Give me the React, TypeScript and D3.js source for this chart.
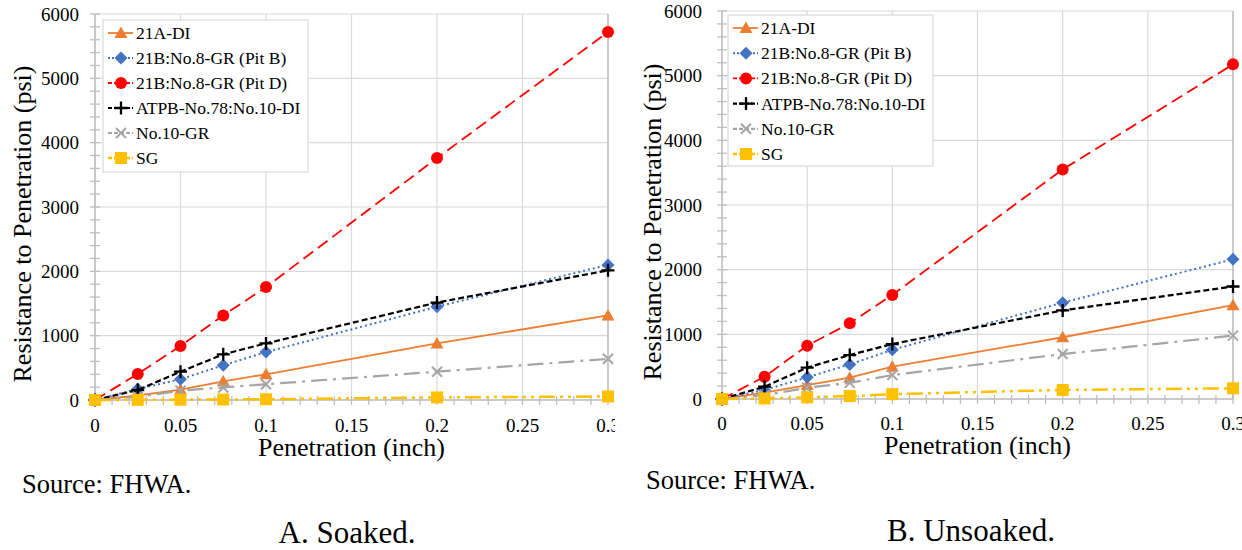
import React from "react";
import * as d3 from "d3";

const penetration = [0, 0.025, 0.05, 0.075, 0.1, 0.2, 0.3];
const seriesNames = [
  "21A-DI",
  "21B:No.8-GR (Pit B)",
  "21B:No.8-GR (Pit D)",
  "ATPB-No.78:No.10-DI",
  "No.10-GR",
  "SG",
];
const soaked21A = [0, 70, 160, 290, 400, 880, 1315];
const soakedPitB = [0, 170, 322, 540, 745, 1450, 2100];
const soakedPitD = [0, 405, 840, 1315, 1755, 3760, 5720];
const soakedATPB = [0, 155, 440, 710, 880, 1515, 2015];
const soakedNo10 = [0, 50, 145, 195, 245, 440, 640];
const soakedSG = [0, 3, 5, 8, 12, 40, 55];

const unsoaked21A = [0, 100, 215, 330, 500, 955, 1450];
const unsoakedPitB = [0, 140, 335, 535, 760, 1490, 2160];
const unsoakedPitD = [0, 345, 825, 1170, 1610, 3550, 5175];
const unsoakedATPB = [0, 190, 485, 680, 850, 1370, 1740];
const unsoakedNo10 = [0, 60, 175, 250, 370, 695, 980];
const unsoakedSG = [0, 8, 25, 45, 75, 140, 165];

const xTickValues = [0, 0.05, 0.1, 0.15, 0.2, 0.25, 0.3];
const xTickLabels = ["0", "0.05", "0.1", "0.15", "0.2", "0.25", "0.3"];
const yTickValues = [0, 1000, 2000, 3000, 4000, 5000, 6000];

const FONT = "'Liberation Serif', 'Times New Roman', serif";

const styles = [
  { color: "#ED7D31", dash: "", width: 1.8, marker: "triangle" },
  { color: "#4472C4", dash: "2,3", width: 2, marker: "diamond" },
  { color: "#FF0000", dash: "12,6", width: 1.8, marker: "circle" },
  { color: "#000000", dash: "6,3", width: 2.2, marker: "plus" },
  { color: "#A5A5A5", dash: "16,6,3,6", width: 2.2, marker: "x" },
  { color: "#FFC000", dash: "16,5,3,5,3,5", width: 2.5, marker: "square" },
];

function Marker({ type, x, y, color }: { type: string; x: number; y: number; color: string }) {
  if (type === "triangle")
    return <path d={`M${x},${y - 6.5}L${x + 6.5},${y + 5}L${x - 6.5},${y + 5}Z`} fill={color} />;
  if (type === "diamond")
    return <path d={`M${x},${y - 6.5}L${x + 6.5},${y}L${x},${y + 6.5}L${x - 6.5},${y}Z`} fill={color} />;
  if (type === "circle") return <circle cx={x} cy={y} r={6} fill={color} />;
  if (type === "square") return <rect x={x - 6} y={y - 6} width={12} height={12} fill={color} />;
  if (type === "plus")
    return (
      <path d={`M${x - 6.5},${y}H${x + 6.5}M${x},${y - 6.5}V${y + 6.5}`} stroke={color} strokeWidth={2.3} fill="none" />
    );
  return (
    <path d={`M${x - 5},${y - 5}L${x + 5},${y + 5}M${x - 5},${y + 5}L${x + 5},${y - 5}`} stroke={color} strokeWidth={2} fill="none" />
  );
}

type PanelProps = {
  id: string;
  clipRight: number;
  series: number[][];
  xr: [number, number];
  yr: [number, number];
  legend: { x: number; y: number; w: number; h: number; row0: number; step: number };
  yTitle: { x: number; y: number };
  xTickY: number;
  xTitleY: number;
  yLabelX: number;
};

function Panel({ id, clipRight, series, xr, yr, legend, yTitle, xTickY, xTitleY, yLabelX }: PanelProps) {
  const x = d3.scaleLinear().domain([0, 0.3]).range(xr);
  const y = d3.scaleLinear().domain([0, 6000]).range(yr);
  const line = d3
    .line<[number, number]>()
    .x((d) => x(d[0]))
    .y((d) => y(d[1]));
  const minorX = d3.range(0, 31).map((i) => i / 100);
  const minorY = d3.range(0, 31).map((i) => i * 200);
  const axisColor = "#bfbfbf";
  const gridColor = "#d9d9d9";
  return (
    <g clipPath={`url(#${id})`}>
      <defs>
        <clipPath id={id}>
          <rect x={0} y={0} width={clipRight} height={470} />
        </clipPath>
      </defs>
      {xTickValues.map((t) => (
        <line key={"gx" + t} x1={x(t)} x2={x(t)} y1={yr[1]} y2={yr[0]} stroke={gridColor} strokeWidth={1.2} />
      ))}
      {yTickValues.map((t) => (
        <line key={"gy" + t} x1={xr[0]} x2={xr[1]} y1={y(t)} y2={y(t)} stroke={gridColor} strokeWidth={1.2} />
      ))}
      <line x1={xr[1]} x2={xr[1]} y1={yr[1]} y2={yr[0]} stroke={axisColor} strokeWidth={1.5} />
      <line x1={xr[0]} x2={xr[1]} y1={yr[0]} y2={yr[0]} stroke={axisColor} strokeWidth={1.5} />
      <line x1={xr[0]} x2={xr[0]} y1={yr[1]} y2={yr[0]} stroke={axisColor} strokeWidth={1.5} />
      {minorX.map((t) => (
        <line key={"tx" + t} x1={x(t)} x2={x(t)} y1={yr[0] - 4} y2={yr[0] + 5} stroke={axisColor} strokeWidth={1.3} />
      ))}
      {minorY.map((t) => (
        <line key={"ty" + t} x1={xr[0] - 5} x2={xr[0] + 5} y1={y(t)} y2={y(t)} stroke={axisColor} strokeWidth={1.3} />
      ))}
      {xTickValues.map((t, i) => (
        <text key={"lx" + t} x={x(t)} y={xTickY} textAnchor="middle" dominantBaseline="central" fontSize={19} fontFamily={FONT}>
          {xTickLabels[i]}
        </text>
      ))}
      {yTickValues.map((t) => (
        <text key={"ly" + t} x={yLabelX} y={y(t)} textAnchor="end" dominantBaseline="central" fontSize={19} fontFamily={FONT}>
          {t}
        </text>
      ))}
      <text
        x={(xr[0] + xr[1]) / 2}
        y={xTitleY}
        textAnchor="middle"
        dominantBaseline="central"
        fontSize={26}
        fontFamily={FONT}
      >
        Penetration (inch)
      </text>
      <text
        transform={`translate(${yTitle.x},${yTitle.y}) rotate(-90)`}
        textAnchor="middle"
        dominantBaseline="central"
        fontSize={26}
        fontFamily={FONT}
      >
        Resistance to Penetration (psi)
      </text>
      {series.map((vals, si) => {
        const st = styles[si];
        const pts = penetration.map((p, i) => [p, vals[i]] as [number, number]);
        return (
          <g key={"s" + si}>
            <path d={line(pts) || ""} fill="none" stroke={st.color} strokeWidth={st.width} strokeDasharray={st.dash} />
            {pts.map((d, i) => (
              <Marker key={i} type={st.marker} x={x(d[0])} y={y(d[1])} color={st.color} />
            ))}
          </g>
        );
      })}
      <rect x={legend.x} y={legend.y} width={legend.w} height={legend.h} fill="#fff" stroke="#d9d9d9" strokeWidth={1.2} />
      {seriesNames.map((name, i) => {
        const st = styles[i];
        const cy = legend.row0 + i * legend.step;
        const lx = legend.x + 5;
        return (
          <g key={"lg" + i}>
            <line x1={lx} x2={lx + 25} y1={cy} y2={cy} stroke={st.color} strokeWidth={st.width} strokeDasharray={st.dash ? (st.dash === "2,3" ? "2,2" : "4,2") : ""} />
            <Marker type={st.marker} x={lx + 13} y={cy} color={st.color} />
            <text x={lx + 28} y={cy} dominantBaseline="central" fontSize={17.5} fontFamily={FONT}>
              {name}
            </text>
          </g>
        );
      })}
    </g>
  );
}

export default function App() {
  const soaked = [soaked21A, soakedPitB, soakedPitD, soakedATPB, soakedNo10, soakedSG];
  const unsoaked = [unsoaked21A, unsoakedPitB, unsoakedPitD, unsoakedATPB, unsoakedNo10, unsoakedSG];
  return (
    <svg width={1242} height={550} style={{ position: "absolute", left: 0, top: 0, background: "#fff" }}>
      <rect x={0} y={0} width={1242} height={550} fill="#fff" />
      <Panel
        id="clipA"
        clipRight={615}
        series={soaked}
        xr={[95, 608]}
        yr={[400, 14]}
        legend={{ x: 103, y: 20, w: 205, h: 152, row0: 33, step: 25 }}
        yTitle={{ x: 22, y: 224 }}
        xTickY={425}
        xTitleY={447}
        yLabelX={79}
      />
      <Panel
        id="clipB"
        clipRight={1242}
        series={unsoaked}
        xr={[722, 1233]}
        yr={[399, 11]}
        legend={{ x: 728, y: 15, w: 205, h: 151, row0: 28, step: 25.2 }}
        yTitle={{ x: 652, y: 222 }}
        xTickY={423}
        xTitleY={445}
        yLabelX={702}
      />
      <text x={22} y={484} dominantBaseline="central" fontSize={26.5} fontFamily={FONT}>
        Source: FHWA.
      </text>
      <text x={646} y={480} dominantBaseline="central" fontSize={26.5} fontFamily={FONT}>
        Source: FHWA.
      </text>
      <text x={347} y={532} textAnchor="middle" dominantBaseline="central" fontSize={31} fontFamily={FONT}>
        A. Soaked.
      </text>
      <text x={971} y={530} textAnchor="middle" dominantBaseline="central" fontSize={31} fontFamily={FONT}>
        B. Unsoaked.
      </text>
    </svg>
  );
}
